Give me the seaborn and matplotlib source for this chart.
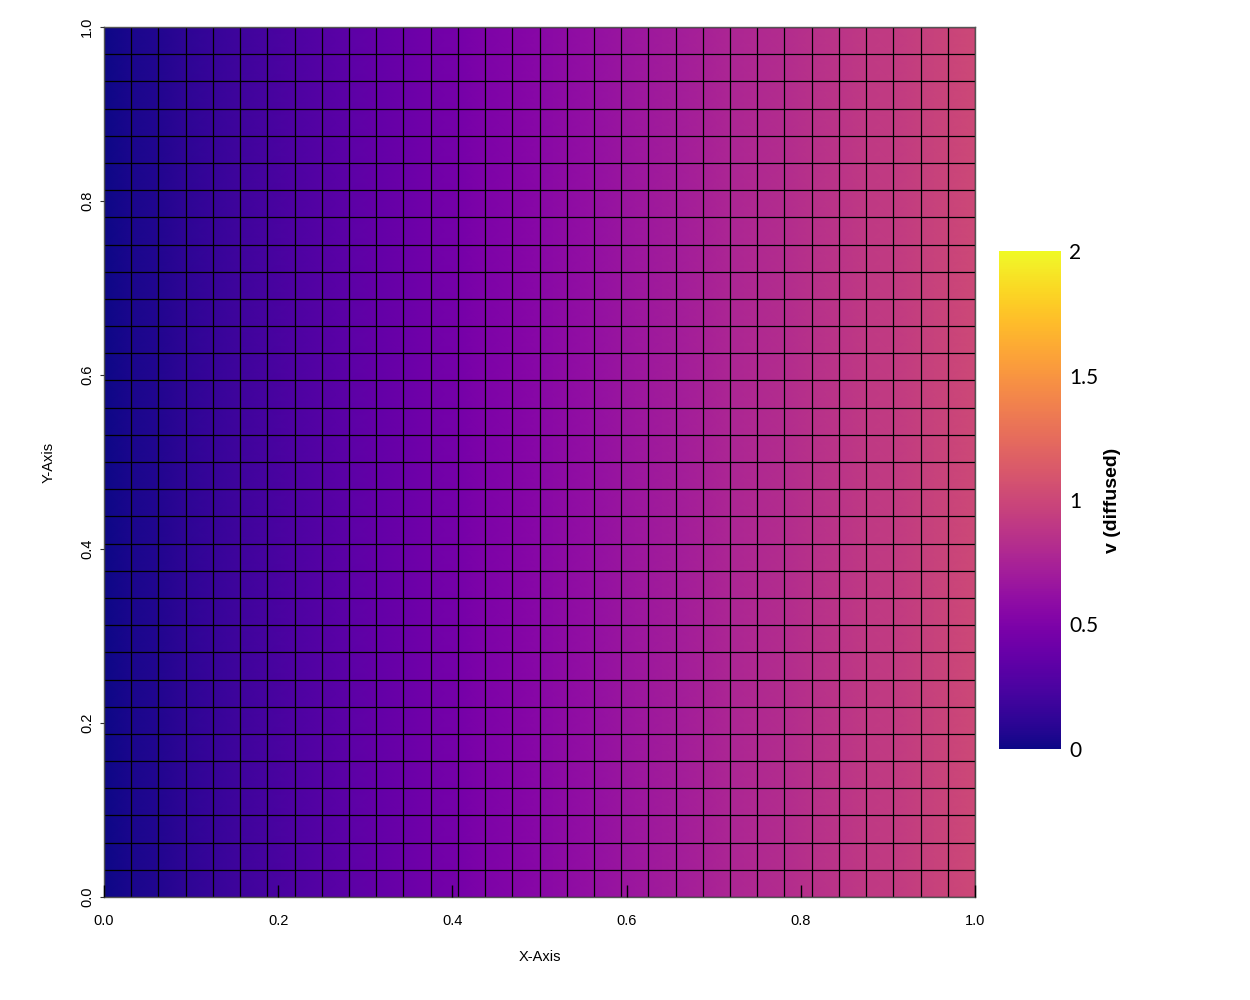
import numpy as np
import matplotlib
matplotlib.use("Agg")
import matplotlib.pyplot as plt
import seaborn as sns

sns.set_style("white")
plt.rcParams['font.family'] = ['Liberation Sans', 'DejaVu Sans']

# grid vertices (32 x 32 cells on the unit square)
x_edges = np.linspace(0.0, 1.0, 33)
y_edges = np.linspace(0.0, 1.0, 33)

# v (diffused) read along x at each vertex column, same for every row
v_profile = [0.00, 0.04, 0.07, 0.11, 0.15, 0.19, 0.22, 0.26, 0.29, 0.33, 0.36,
             0.40, 0.43, 0.46, 0.50, 0.53, 0.56, 0.59, 0.62, 0.65, 0.68, 0.71,
             0.74, 0.77, 0.79, 0.82, 0.85, 0.87, 0.90, 0.92, 0.95, 0.98, 1.01]

x_ticks = [0.0, 0.2, 0.4, 0.6, 0.8, 1.0]
y_ticks = [0.0, 0.2, 0.4, 0.6, 0.8, 1.0]
cbar_ticks = [0, 0.5, 1, 1.5, 2]
cbar_labels = ['0', '0.5', '1', '1.5', '2']

cmap = sns.color_palette("plasma", as_cmap=True)

fig = plt.figure(figsize=(12.5, 10), dpi=100)
ax = fig.add_axes([0.0832, 0.103, 0.6968, 0.870])
ax.set_axisbelow(False)  # inward x ticks must sit on top of the mesh

X, Y = np.meshgrid(x_edges, y_edges)
Z = np.tile(np.array(v_profile), (len(y_edges), 1))
mesh = ax.pcolormesh(X, Y, Z, shading='gouraud', cmap=cmap, vmin=0, vmax=2)

# cell edges
ax.vlines(x_edges, 0, 1, colors='black', linewidth=0.9)
ax.hlines(y_edges, 0, 1, colors='black', linewidth=0.9)

ax.set_xlim(0, 1)
ax.set_ylim(0, 1)
ax.set_xticks(x_ticks)
ax.set_yticks(y_ticks)
ax.set_xticklabels([f"{t:.1f}" for t in x_ticks], fontsize=10.5, color='black')
ax.set_yticklabels([f"{t:.1f}" for t in y_ticks], fontsize=10.5, color='black',
                   rotation=90, va='center')
ax.tick_params(axis='x', bottom=True, direction='in', length=9, width=1.0,
               color='black', pad=12)
ax.tick_params(axis='y', left=True, direction='out', length=3, width=0.8,
               color='#333333', pad=4)
ax.set_xlabel("X-Axis", fontsize=10.5, color='black', labelpad=16)
ax.set_ylabel("Y-Axis", fontsize=10.5, color='black', labelpad=18)
for s in ax.spines.values():
    s.set_color('#555555')
    s.set_linewidth(1.0)

cax = fig.add_axes([0.7992, 0.251, 0.0496, 0.498])
cb = fig.colorbar(mesh, cax=cax)
cb.outline.set_visible(False)
cb.set_ticks(cbar_ticks)
cb.set_ticklabels(cbar_labels)
cax.tick_params(length=0, pad=6)
for lbl in cax.get_yticklabels():
    lbl.set_fontfamily(['Lato', 'DejaVu Sans'])
    lbl.set_fontsize(15)
    lbl.set_color('black')
cb.set_label("v (diffused)", fontsize=14, fontweight='bold', color='black', labelpad=4)

fig.savefig("out.png", dpi=100)
